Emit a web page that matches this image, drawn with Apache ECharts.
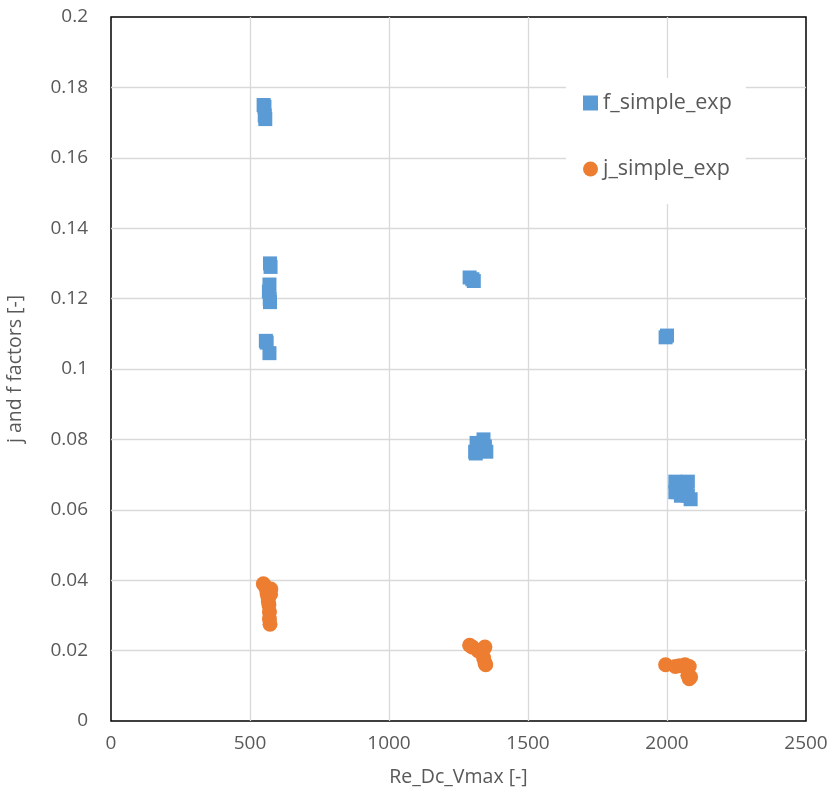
<!DOCTYPE html>
<html><head><meta charset="utf-8">
<script src="https://cdn.jsdelivr.net/npm/echarts@6/dist/echarts.min.js"></script>
<style>html,body{margin:0;padding:0;background:#fff}#c{width:834px;height:797px}</style>
</head><body><div id="c"></div>
<script>
const fX = [549,552,553,555,572,574,570,568,571,572,557,560,570,1290,1300,1305,1315,1310,1312,1340,1345,1350,1342,1995,2000,2030,2035,2030,2050,2075,2070,2075,2085,2040];
const fY = [0.175,0.1745,0.172,0.171,0.130,0.129,0.124,0.122,0.120,0.119,0.108,0.1075,0.1045,0.126,0.1255,0.125,0.079,0.0765,0.076,0.080,0.078,0.0765,0.077,0.109,0.1095,0.068,0.067,0.065,0.064,0.068,0.066,0.064,0.063,0.065];
const jX = [548,552,560,562,565,566,568,570,570,572,575,574,1290,1300,1320,1340,1345,1340,1345,1348,1995,2030,2045,2065,2080,2075,2080,2085];
const jY = [0.039,0.0385,0.037,0.036,0.035,0.034,0.033,0.031,0.029,0.0275,0.0375,0.036,0.0215,0.021,0.020,0.0205,0.021,0.018,0.0165,0.016,0.016,0.0155,0.0157,0.016,0.0155,0.013,0.012,0.0125];
const xTicks = [0,500,1000,1500,2000,2500];
const yTicks = [0,0.02,0.04,0.06,0.08,0.1,0.12,0.14,0.16,0.18,0.2];
const seriesNames = ['f_simple_exp','j_simple_exp'];

const font = '"Open Sans", Liberation Sans, Arial, sans-serif';
const chart = echarts.init(document.getElementById('c'));
chart.setOption({
  animation:false,
  backgroundColor:'#fff',
  grid:{left:111,right:28,top:17,bottom:76,show:true,borderColor:'#000',borderWidth:1.5,
        containLabel:false,outerBoundsMode:'none'},
  legend:{
    orient:'vertical', left:566, top:78, itemGap:44, padding:[14,14,24,17],
    backgroundColor:'#fff',
    data:[{name:seriesNames[0],icon:'rect'},{name:seriesNames[1],icon:'circle'}],
    itemWidth:15,itemHeight:15,
    textStyle:{fontFamily:font,fontSize:21.5,color:'#595959'}
  },
  xAxis:{type:'value',min:xTicks[0],max:xTicks[xTicks.length-1],interval:500,
    name:'Re_Dc_Vmax [-]',nameLocation:'middle',nameGap:46,
    nameTextStyle:{fontFamily:font,fontSize:19.5,color:'#595959'},
    axisLine:{show:false},axisTick:{show:false},
    axisLabel:{fontFamily:font,fontSize:19,color:'#595959',margin:13,formatter:v=>String(v)},
    splitLine:{showMinLine:false,showMaxLine:false,lineStyle:{color:'#d9d9d9',width:1.3}}},
  yAxis:{type:'value',min:0,max:0.2,interval:0.02,
    name:'j and f factors [-]',nameLocation:'middle',nameGap:86,
    nameTextStyle:{fontFamily:font,fontSize:19.5,color:'#595959'},
    axisLine:{show:false},axisTick:{show:false},
    axisLabel:{fontFamily:font,fontSize:19,color:'#595959',margin:23,
      formatter:v=>String(Math.round(v*100)/100)},
    splitLine:{showMinLine:false,showMaxLine:false,lineStyle:{color:'#d9d9d9',width:1.3}}},
  series:[
    {name:seriesNames[0],type:'scatter',symbol:'rect',symbolSize:14,z:3,
     itemStyle:{color:'#5B9BD5',opacity:1},data:fX.map((x,i)=>[x,fY[i]])},
    {name:seriesNames[1],type:'scatter',symbol:'circle',symbolSize:15,z:3,
     itemStyle:{color:'#ED7D31',opacity:1},data:jX.map((x,i)=>[x,jY[i]])}
  ]
});
</script></body></html>
